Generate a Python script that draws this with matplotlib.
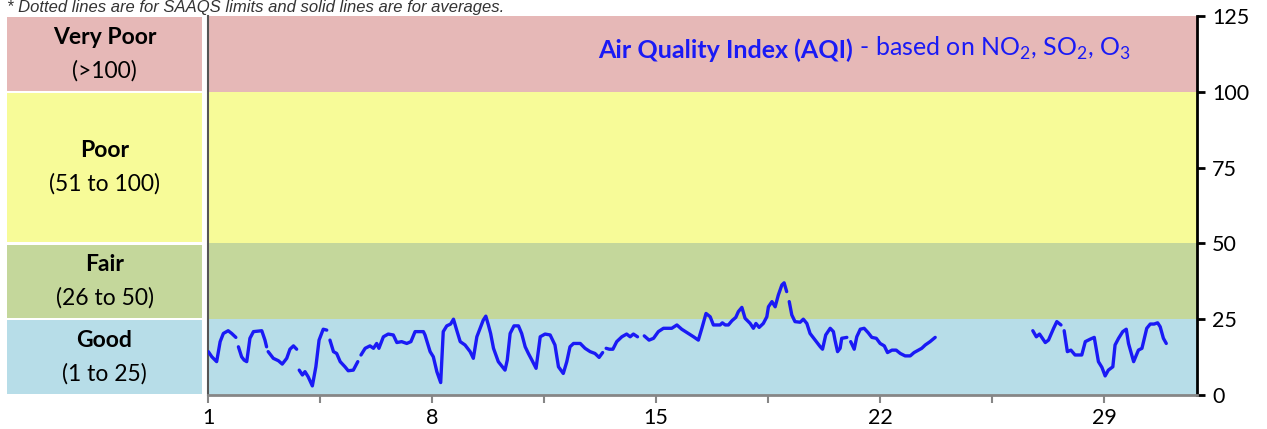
import numpy as np
import matplotlib
matplotlib.use("Agg")
import matplotlib.pyplot as plt
from matplotlib.patches import Rectangle

plt.rcParams['font.family'] = ['Lato', 'DejaVu Sans']
plt.rcParams['mathtext.fontset'] = 'custom'
plt.rcParams['mathtext.rm'] = 'Lato'

nan = np.nan

# hourly-ish AQI readings (day of month, AQI); nan = gap
days = [1.01, 1.12, 1.27, 1.38, 1.48, 1.63, 1.74, 1.87, nan,
        1.95, 2.05, 2.13, 2.21, 2.31, 2.42, 2.68, 2.78, 2.83, nan,
        2.88, 3.04, 3.20, 3.32, 3.46, 3.56, 3.67, 3.77, nan,
        3.85, 3.95, 4.03, 4.13, 4.26, 4.37, 4.47, 4.60, 4.71, nan,
        4.81, 4.92, 5.02, 5.13, 5.28, 5.38, 5.54, 5.68, nan,
        5.78, 5.91, 6.06, 6.17, 6.27, 6.34, 6.48, 6.63, 6.79, 6.90, 7.05, 7.21,
        7.34, 7.47, 7.73, 7.78, 7.94, 8.04, 8.15, 8.27, 8.35, 8.46, 8.58, 8.67,
        8.77, 8.88, 9.03, 9.19, 9.29, 9.40, 9.50, 9.60, 9.68, 9.76, 9.83, 9.92,
        10.07, 10.28, 10.35, 10.44, 10.56, 10.70, 10.80, 10.91, 11.01, 11.12,
        11.25, 11.38, 11.53, 11.69, 11.84, 11.95, 12.10, 12.21, 12.31, 12.42,
        12.63, 12.78, 12.94, 13.09, 13.22, 13.33, nan,
        13.44, 13.54, 13.65, 13.77, 13.93, 14.08, 14.19, 14.29, 14.42, nan,
        14.63, 14.78, 14.92, 15.07, 15.23, 15.49, 15.65, 15.80, 16.01, 16.17,
        16.32, 16.43, 16.56, 16.69, 16.79, 17.00, 17.07, 17.16, 17.26, 17.37,
        17.49, 17.57, 17.68, 17.78, 17.94, 18.04, 18.12, 18.22, 18.35, 18.46,
        18.51, 18.62, 18.72, 18.82, 18.93, 19.00, 19.08, nan,
        19.16, 19.24, 19.34, 19.50, 19.60, 19.71, 19.81, 19.97, 20.13, 20.20,
        20.30, 20.44, 20.54, 20.59, 20.67, 20.75, 20.80, 20.96, nan,
        21.08, 21.19, 21.27, 21.38, 21.50, 21.63, 21.74, 21.88, 22.00, 22.13,
        22.23, 22.37, 22.50, 22.63, 22.78, 22.94, 23.06, 23.20, 23.30, 23.41,
        23.56, 23.72, nan,
        26.77, 26.88, 26.98, 27.16, 27.26, 27.42, 27.52, 27.65, nan,
        27.75, 27.85, 27.96, 28.09, 28.30, 28.41, 28.56, 28.69, 28.82, 28.93,
        29.03, 29.13, 29.27, 29.34, 29.45, 29.58, 29.69, 29.76, 29.92, 30.07,
        30.18, 30.33, 30.44, 30.56, 30.67, 30.75, 30.85, 30.94]

aqi = [14.3, 12.6, 11.0, 17.6, 20.3, 21.2, 20.3, 19.0, nan,
       15.9, 12.6, 11.5, 11.0, 18.7, 20.9, 21.2, 18.1, 15.9, nan,
       14.3, 12.1, 11.3, 10.2, 12.1, 15.1, 16.2, 15.1, nan,
       8.2, 6.6, 7.7, 6.0, 3.0, 9.3, 18.1, 21.7, 21.4, nan,
       18.1, 14.3, 13.7, 11.0, 9.3, 8.0, 8.2, 11.0, nan,
       13.2, 15.4, 16.2, 15.4, 17.0, 15.4, 19.2, 20.1, 19.8, 17.3, 17.6, 17.0,
       17.6, 20.9, 20.9, 19.8, 14.3, 12.6, 7.7, 4.1, 20.9, 22.8, 23.4, 25.0,
       21.4, 17.6, 16.5, 14.3, 12.1, 19.2, 22.0, 24.7, 26.0, 23.1, 20.3, 15.4,
       11.0, 8.2, 11.5, 20.3, 22.8, 22.8, 20.3, 15.9, 13.7, 11.5,
       8.8, 19.2, 20.1, 19.8, 16.5, 9.3, 7.1, 11.0, 15.9, 17.0,
       17.0, 15.4, 14.3, 13.7, 12.4, 14.0, nan,
       15.4, 15.1, 15.1, 17.6, 19.2, 20.1, 19.2, 20.1, 19.2, nan,
       19.5, 18.1, 18.7, 20.9, 22.0, 22.0, 23.1, 21.7, 20.3, 19.2,
       18.1, 22.0, 26.9, 25.8, 23.1, 23.1, 23.8, 23.1, 23.1, 24.5,
       25.6, 27.5, 28.9, 25.3, 23.6, 22.0, 23.6, 22.3, 23.6, 25.8,
       29.1, 30.8, 29.1, 33.0, 36.3, 37.0, 34.1, nan,
       30.8, 26.4, 24.2, 24.0, 25.0, 23.6, 20.3, 18.1, 15.9, 15.1,
       19.8, 22.0, 20.9, 18.1, 14.3, 15.4, 18.7, 19.0, nan,
       17.6, 15.1, 19.2, 21.7, 22.0, 20.5, 19.0, 18.7, 17.0, 16.2,
       14.0, 14.8, 14.8, 13.7, 12.9, 12.9, 14.0, 14.8, 15.4, 16.5,
       17.6, 19.0, nan,
       21.2, 19.2, 20.1, 17.3, 18.1, 22.0, 24.2, 23.1, nan,
       21.2, 14.3, 14.8, 13.2, 13.2, 17.6, 18.4, 19.0, 11.0, 9.1,
       6.3, 8.2, 9.3, 16.5, 18.7, 20.9, 21.7, 17.0, 11.0, 14.8,
       15.4, 22.0, 23.4, 23.4, 23.8, 22.5, 18.7, 17.0]

# AQI categories (bottom, top, colour, name, range)
band_lo = [0, 25, 50, 100]
band_hi = [25, 50, 100, 125]
band_col = ['#B7DDE8', '#C4D79B', '#F7FB98', '#E6B8B7']
band_name = ['Good', 'Fair', 'Poor', 'Very Poor']
band_rng = ['(1 to 25)', '(26 to 50)', '(51 to 100)', '(>100)']

fig = plt.figure(figsize=(12.67, 4.29), dpi=100)

### main chart
ax = fig.add_axes([208/1267, 1-395/429, 989/1267, 379/429])
for lo, hi, c in zip(band_lo, band_hi, band_col):
    ax.axhspan(lo, hi, color=c, lw=0, zorder=0)
ax.plot(days, aqi, color='#1A1AF5', lw=2.4, solid_capstyle='round', zorder=3)

ax.set_xlim(1, 31.9)
ax.set_ylim(0, 125)
ax.set_xticks(np.arange(1, 31.9, 3.5))
ax.set_xticklabels(['1', '', '8', '', '15', '', '22', '', '29'])
ax.yaxis.tick_right()
ax.set_yticks([0, 25, 50, 75, 100, 125])
ax.tick_params(axis='y', direction='out', length=6, width=2, colors='black',
               labelsize=15.5, pad=5)
ax.tick_params(axis='x', direction='out', length=6, width=1.5, color='#868686',
               labelcolor='black', labelsize=15.5, pad=3)
ax.spines['top'].set_visible(False)
ax.spines['right'].set_linewidth(2)
ax.spines['left'].set_color('#555555')
ax.spines['left'].set_linewidth(1.5)
ax.spines['bottom'].set_color('#868686')
ax.spines['bottom'].set_linewidth(2)

t1 = ax.text((598-208)/989, 1-(58-16)/379, 'Air Quality Index (AQI)',
             transform=ax.transAxes, color='#1A1AF5', fontsize=18,
             fontweight='bold', va='baseline', ha='left')
ax.annotate(' - based on NO$_2$, SO$_2$, O$_3$', xy=(1, 0), xycoords=t1,
            va='bottom', ha='left', color='#1A1AF5', fontsize=18)

### category panel on the left
lx = fig.add_axes([7/1267, 1-395/429, 195/1267, 379/429])
lx.set_xlim(0, 1)
lx.set_ylim(0, 125)
lx.axis('off')
for lo, hi, c, name, rng in zip(band_lo, band_hi, band_col, band_name, band_rng):
    lx.add_patch(Rectangle((0, lo + 0.4), 1, hi - lo - 0.8, color=c, lw=0))
    mid = (lo + hi) / 2
    lx.text(0.5, mid + 5.5, name, ha='center', va='center', fontsize=16.5,
            fontweight='bold')
    lx.text(0.5, mid - 5.5, rng, ha='center', va='center', fontsize=16.5)

fig.text(7/1267, 1.0,
         '* Dotted lines are for SAAQS limits and solid lines are for averages.',
         family='Liberation Sans', style='italic', fontsize=12, color='#333333',
         va='top', ha='left')

plt.savefig('out.png', dpi=100)
